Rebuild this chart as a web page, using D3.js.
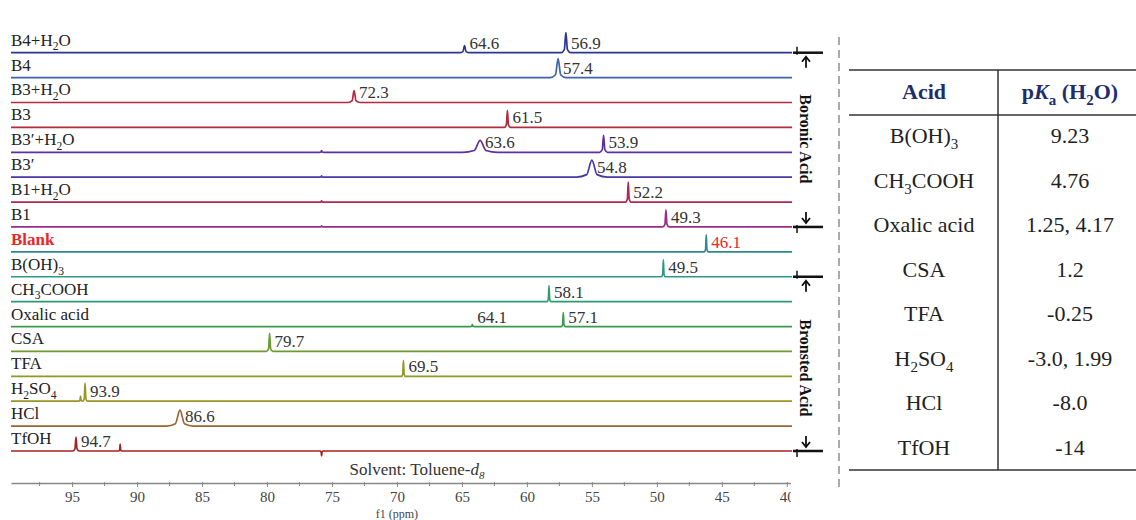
<!DOCTYPE html>
<html>
<head>
<meta charset="utf-8">
<script src="https://cdn.jsdelivr.net/npm/d3@7"></script>
<style>
  body { margin: 0; background: #fff; }
  svg { display: block; font-family: "Liberation Serif", "Times New Roman", serif; }
</style>
</head>
<body>
<svg id="chart"></svg>
<script>
// spectra, top to bottom ({..} = subscript)
const spectra = ["B4+H{2}O", "B4", "B3+H{2}O", "B3", "B3′+H{2}O", "B3′", "B1+H{2}O", "B1",
  "Blank", "B(OH){3}", "CH{3}COOH", "Oxalic acid", "CSA", "TFA", "H{2}SO{4}", "HCl", "TfOH"];
const spectrumColors = ["#2b3592", "#3b64aa", "#b52a3c", "#b52a3c", "#5e2fa0", "#4b36a2", "#b0284e", "#9c2c86",
  "#2a8a8e", "#2a9a88", "#2a9a72", "#3a9a4e", "#6a9a30", "#8e9a22", "#9a9422", "#9a6530", "#a82222"];
// peaks: [ppm, relative height, half width (ppm), label]
const peaks = [
  [[64.8, 0.35, 0.12, "64.6"], [57.0, 1.0, 0.12, "56.9"]],
  [[57.6, 0.95, 0.2, "57.4"]],
  [[73.3, 0.6, 0.15, "72.3"]],
  [[61.5, 0.85, 0.08, "61.5"]],
  [[75.8, 0.08, 0.05, ""], [63.6, 0.6, 0.45, "63.6"], [54.1, 0.85, 0.1, "53.9"]],
  [[75.8, 0.06, 0.05, ""], [55.0, 0.85, 0.4, "54.8"]],
  [[75.8, 0.06, 0.05, ""], [52.2, 1.0, 0.07, "52.2"]],
  [[75.8, 0.06, 0.05, ""], [49.3, 0.85, 0.08, "49.3"]],
  [[46.2, 0.85, 0.05, "46.1"]],
  [[49.5, 0.85, 0.05, "49.5"]],
  [[58.3, 0.8, 0.05, "58.1"]],
  [[64.2, 0.1, 0.05, "64.1"], [57.2, 0.7, 0.05, "57.1"]],
  [[79.8, 0.9, 0.08, "79.7"]],
  [[69.5, 0.8, 0.05, "69.5"]],
  [[94.35, 0.25, 0.05, ""], [94.0, 0.9, 0.06, "93.9"]],
  [[86.7, 0.8, 0.35, "86.6"]],
  [[94.7, 0.7, 0.08, "94.7"], [91.3, 0.35, 0.04, ""], [75.8, -0.25, 0.04, ""]]
];
const majorTicks = [95, 90, 85, 80, 75, 70, 65, 60, 55, 50, 45, 40];
const minorTicks = [97.5, 92.5, 87.5, 82.5, 77.5, 72.5, 67.5, 62.5, 57.5, 52.5, 47.5, 42.5];

const groups = [
  { name: "Boronic Acid", from: "B4+H{2}O", to: "B1" },
  { name: "Bronsted Acid", from: "B(OH){3}", to: "TfOH" }
];

// table
const tableAcids = ["B(OH){3}", "CH{3}COOH", "Oxalic acid", "CSA", "TFA", "H{2}SO{4}", "HCl", "TfOH"];
const tablePka = ["9.23", "4.76", "1.25, 4.17", "1.2", "-0.25", "-3.0, 1.99", "-8.0", "-14"];
const tableHeaders = ["Acid", "p[K]{a} (H{2}O)"];

const width = 1136, height = 520;
const svg = d3.select("#chart").attr("width", width).attr("height", height);

// rich text: {x} subscript, [x] italic
function rich(text, str, fs) {
  const parts = str.split(/(\{[^}]*\}|\[[^\]]*\])/).filter((p) => p);
  let down = false;
  parts.forEach((p) => {
    const t = text.append("tspan");
    if (p[0] === "{") {
      t.text(p.slice(1, -1)).attr("font-size", fs * 0.68).attr("dy", down ? 0 : fs * 0.28);
      down = true;
    } else {
      if (p[0] === "[") t.attr("font-style", "italic").text(p.slice(1, -1));
      else t.text(p);
      t.attr("dy", down ? -fs * 0.28 : 0);
      down = false;
    }
  });
}

const x = d3.scaleLinear().domain([99.7, 39.6]).range([11, 792]);
const y = d3.scalePoint().domain(spectra).range([52.7, 451]);
const amp = d3.scaleLinear().domain([0, 1]).range([0, -20]);

const line = d3.line()
  .x((d) => x(d[0]))
  .y((d) => amp(d[1]))
  .curve(d3.curveMonotoneX);

// --- spectra ---
const rows = svg.append("g")
  .selectAll("g")
  .data(spectra)
  .join("g")
  .attr("transform", (d) => `translate(0,${y(d)})`);

rows.append("path")
  .attr("fill", "none")
  .attr("stroke", (d, i) => spectrumColors[i])
  .attr("stroke-width", 1.7)
  .attr("d", (d, i) => {
    const pts = [[x.domain()[0], 0]];
    peaks[i].slice().sort((a, b) => b[0] - a[0]).forEach(([p, h, w]) => {
      pts.push([p + 3 * w, 0], [p + w, 0.15 * h], [p, h], [p - w, 0.15 * h], [p - 3 * w, 0]);
    });
    pts.push([x.domain()[1], 0]);
    return line(pts);
  });

rows.append("text")
  .attr("x", 11)
  .attr("y", -7)
  .attr("font-size", 17)
  .attr("font-weight", (d) => (d === "Blank" ? "bold" : null))
  .attr("fill", (d) => (d === "Blank" ? "#e8282a" : "#222"))
  .each(function (d) { rich(d3.select(this), d, 17); });

rows.each(function (d, i) {
  d3.select(this)
    .selectAll("text.peak")
    .data(peaks[i].filter((p) => p[3]))
    .join("text")
    .attr("class", "peak")
    .attr("x", (p) => x(p[0]) + 5)
    .attr("y", -4)
    .attr("font-size", 17)
    .attr("fill", d === "Blank" ? "#e8282a" : "#333")
    .text((p) => p[3]);
});

// --- axis ---
const clip = svg.append("clipPath").attr("id", "axclip");
clip.append("rect").attr("x", 0).attr("y", -15).attr("width", 791).attr("height", 50);

const axisG = svg.append("g")
  .attr("transform", "translate(0,483)")
  .attr("clip-path", "url(#axclip)")
  .call(d3.axisBottom(x).tickValues(majorTicks).tickSize(4).tickSizeOuter(0).tickFormat(d3.format("d")));
axisG.select(".domain").attr("stroke", "#888").attr("stroke-width", 1.5);
axisG.selectAll(".tick line").attr("stroke", "#888").attr("y1", -1);
axisG.selectAll(".tick text")
  .attr("font-family", "Liberation Serif, serif")
  .attr("font-size", 15)
  .attr("fill", "#444")
  .attr("dy", "0.78em");

axisG.append("g")
  .selectAll("line")
  .data(minorTicks)
  .join("line")
  .attr("x1", (d) => x(d)).attr("x2", (d) => x(d))
  .attr("y1", -1).attr("y2", 3)
  .attr("stroke", "#888");

svg.append("text")
  .attr("x", x(70))
  .attr("y", 518)
  .attr("text-anchor", "middle")
  .attr("font-size", 12)
  .attr("fill", "#444")
  .text("f1 (ppm)");

const solvent = svg.append("text")
  .attr("x", 417)
  .attr("y", 475)
  .attr("text-anchor", "middle")
  .attr("font-size", 17)
  .attr("fill", "#333");
solvent.append("tspan").text("Solvent: Toluene-");
solvent.append("tspan").attr("font-style", "italic").text("d");
solvent.append("tspan").attr("font-size", 11).attr("font-style", "italic").attr("dy", 4).text("8");

// --- group brackets ---
const bx = 806;
groups.forEach((g) => {
  const y0 = y(g.from), y1 = y(g.to);
  const b = svg.append("g").attr("stroke", "#111").attr("fill", "none");
  b.append("line").attr("x1", 793).attr("x2", 823).attr("y1", y0).attr("y2", y0).attr("stroke-width", 2.5);
  b.append("line").attr("x1", 793).attr("x2", 823).attr("y1", y1).attr("y2", y1).attr("stroke-width", 2.5);
  b.append("line").attr("x1", 797).attr("x2", 797).attr("y1", y0 - 6).attr("y2", y0 + 2).attr("stroke-width", 1.5);
  b.append("line").attr("x1", 797).attr("x2", 797).attr("y1", y1 - 2).attr("y2", y1 + 6).attr("stroke-width", 1.5);
  // arrows
  b.append("line").attr("x1", bx).attr("x2", bx).attr("y1", y0 + 5).attr("y2", y0 + 15).attr("stroke-width", 1.8);
  b.append("path").attr("d", `M${bx - 4},${y0 + 9}L${bx},${y0 + 4}L${bx + 4},${y0 + 9}`).attr("stroke-width", 1.8);
  b.append("line").attr("x1", bx).attr("x2", bx).attr("y1", y1 - 15).attr("y2", y1 - 5).attr("stroke-width", 1.8);
  b.append("path").attr("d", `M${bx - 4},${y1 - 9}L${bx},${y1 - 4}L${bx + 4},${y1 - 9}`).attr("stroke-width", 1.8);
  svg.append("text")
    .attr("transform", `translate(${bx},${(y0 + y1) / 2 + (g.name === "Boronic Acid" ? -1 : 4)}) rotate(90)`)
    .attr("text-anchor", "middle")
    .attr("dy", "0.35em")
    .attr("font-size", 16)
    .attr("font-weight", "bold")
    .attr("fill", "#111")
    .text(g.name);
});

// dashed separator
svg.append("line")
  .attr("x1", 839).attr("x2", 839).attr("y1", 37).attr("y2", 490)
  .attr("stroke", "#aaa").attr("stroke-width", 2).attr("stroke-dasharray", "8,5");

// --- table ---
const tbl = svg.append("g");
const colX = [924, 1070];
const rowY = d3.scalePoint().domain(tableAcids).range([136, 448]);
const fsT = 22;

tbl.append("line").attr("x1", 849).attr("x2", width).attr("y1", 70).attr("y2", 70).attr("stroke", "#333").attr("stroke-width", 1.5);
tbl.append("line").attr("x1", 849).attr("x2", width).attr("y1", 115).attr("y2", 115).attr("stroke", "#333").attr("stroke-width", 1.5);
tbl.append("line").attr("x1", 849).attr("x2", width).attr("y1", 470).attr("y2", 470).attr("stroke", "#333").attr("stroke-width", 1.5);
tbl.append("line").attr("x1", 998).attr("x2", 998).attr("y1", 70).attr("y2", 470).attr("stroke", "#333").attr("stroke-width", 1.5);

tableHeaders.forEach((h, i) => {
  const t = tbl.append("text")
    .attr("x", colX[i]).attr("y", 99)
    .attr("text-anchor", "middle")
    .attr("font-size", fsT)
    .attr("font-weight", "bold")
    .attr("fill", "#1f2d6b");
  rich(t, h, fsT);
});

tbl.append("g")
  .selectAll("text")
  .data(tableAcids)
  .join("text")
  .attr("x", colX[0])
  .attr("y", (d) => rowY(d) + 7)
  .attr("text-anchor", "middle")
  .attr("font-size", fsT)
  .attr("fill", "#222")
  .each(function (d) { rich(d3.select(this), d, fsT); });

tbl.append("g")
  .selectAll("text")
  .data(tablePka)
  .join("text")
  .attr("x", colX[1])
  .attr("y", (d, i) => rowY(tableAcids[i]) + 7)
  .attr("text-anchor", "middle")
  .attr("font-size", fsT)
  .attr("fill", "#222")
  .text((d) => d);
</script>
</body>
</html>
